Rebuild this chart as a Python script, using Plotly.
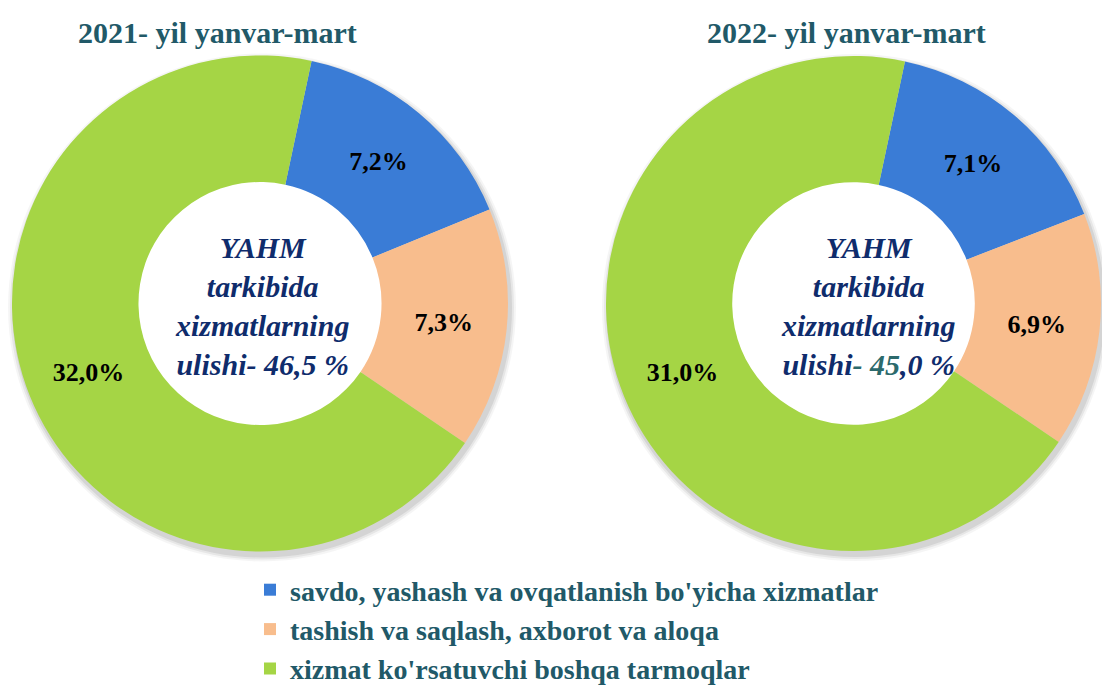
import plotly.graph_objects as go

categories = [
    "savdo, yashash va ovqatlanish bo'yicha xizmatlar",
    "tashish va saqlash, axborot va aloqa",
    "xizmat ko'rsatuvchi boshqa tarmoqlar",
]
values_2021 = [7.2, 7.3, 32.0]
values_2022 = [7.1, 6.9, 31.0]
titles = ["2021- yil yanvar-mart", "2022- yil yanvar-mart"]

colors = ["#3a7cd6", "#f8bd8d", "#a5d545"]
title_color = "#215968"
navy = "#0f2c6c"
teal = "#2c6a6c"
SERIF = "Liberation Serif, Times New Roman, serif"

W, H = 1102, 686
HOLE = 0.49


def fmt(v):
    return f"{v:.1f}".replace(".", ",")


domains = [
    dict(x=[12 / W, 508 / W], y=[1 - 552 / H, 1 - 55 / H]),
    dict(x=[606 / W, 1101 / W], y=[1 - 552 / H, 1 - 55 / H]),
]

fig = go.Figure()

# soft drop shadow behind each donut (outside only; hole kept white)
for d in domains:
    cxp = (d["x"][0] + d["x"][1]) / 2 * W
    cyp = (1 - (d["y"][0] + d["y"][1]) / 2) * H
    r = min((d["x"][1] - d["x"][0]) * W, (d["y"][1] - d["y"][0]) * H) / 2
    ox, oy = 2, 4
    for k, a in [(6, 0.04), (4, 0.06), (2, 0.08)]:
        fig.add_shape(
            type="circle", xref="paper", yref="paper", layer="below",
            x0=(cxp + ox - r - k) / W, x1=(cxp + ox + r + k) / W,
            y0=1 - (cyp + oy + r + k) / H, y1=1 - (cyp + oy - r - k) / H,
            fillcolor=f"rgba(0,0,0,{a})", line=dict(width=0),
        )
    rh = r * HOLE
    fig.add_shape(
        type="circle", xref="paper", yref="paper", layer="below",
        x0=(cxp - rh - 2) / W, x1=(cxp + rh + 2) / W,
        y0=1 - (cyp + rh + 2) / H, y1=1 - (cyp - rh - 2) / H,
        fillcolor="white", line=dict(width=0),
    )

for i, vals in enumerate([values_2021, values_2022]):
    fig.add_trace(go.Pie(
        labels=categories,
        values=vals,
        text=[fmt(v) + "%" for v in vals],
        textinfo="text",
        textposition="inside",
        insidetextorientation="horizontal",
        textfont=dict(family=SERIF, size=26, color="black", weight="bold"),
        hole=HOLE,
        sort=False,
        direction="clockwise",
        rotation=12,
        marker=dict(colors=colors, line=dict(width=0)),
        domain=domains[i],
        showlegend=(i == 0),
        hoverinfo="label+value",
    ))

# titles
title_x = [217 / W, 846 / W]
for i, t in enumerate(titles):
    fig.add_annotation(
        x=title_x[i], y=1 - 32 / H, xref="paper", yref="paper",
        text=f"<b>{t}</b>", showarrow=False,
        font=dict(family=SERIF, size=30, color=title_color),
        xanchor="center", yanchor="middle",
    )

# center texts
tot21 = sum(values_2021)
tot22 = sum(values_2022)
t22a, t22b = fmt(tot22).split(",")
center_texts = [
    f"<b><i>YAHM<br>tarkibida<br>xizmatlarning<br>ulishi- {fmt(tot21)} %</i></b>",
    f"<b><i>YAHM<br>tarkibida<br>xizmatlarning<br>ulishi<span style='color:{teal}'>- {t22a}</span>,{t22b} %</i></b>",
]
xshifts = [2, 14]
for i, d in enumerate(domains):
    cx = (d["x"][0] + d["x"][1]) / 2
    cy = (d["y"][0] + d["y"][1]) / 2
    fig.add_annotation(
        x=cx, y=cy, xref="paper", yref="paper", xshift=xshifts[i], yshift=-2,
        text=center_texts[i], showarrow=False,
        font=dict(family=SERIF, size=30, color=navy),
        align="center", xanchor="center", yanchor="middle",
    )

fig.update_layout(
    width=W, height=H,
    margin=dict(l=0, r=0, t=0, b=0, autoexpand=False),
    paper_bgcolor="white",
    plot_bgcolor="white",
    legend=dict(
        x=250 / W, y=1 - 565 / H, xanchor="left", yanchor="top",
        font=dict(family=SERIF, size=28, color=title_color, weight="bold"),
        itemwidth=30, tracegroupgap=0,
        bgcolor="rgba(0,0,0,0)",
    ),
)

fig.write_html(
    "out.html",
    config={"displayModeBar": False},
    post_script="document.body.style.margin='0';",
)
